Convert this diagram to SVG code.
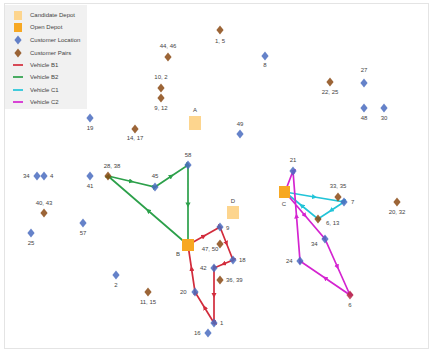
<svg xmlns="http://www.w3.org/2000/svg" width="432" height="354" viewBox="0 0 432 354">
<style>
text{font-family:"Liberation Sans",Arial,sans-serif;font-size:6px;fill:#444}
.lbl{text-anchor:middle}
.cust{fill:#4a6cc0;opacity:0.85}
.pair{fill:#8b4a14;opacity:0.85}
.cand{fill:#fdd58e}
.open{fill:#f7a823}
.r{stroke-width:1.7;fill:none}
.b1{stroke:#d22c3c}
.b2{stroke:#2ca04a}
.c1{stroke:#22c4d8}
.c2{stroke:#d424d0}
</style>
<defs>
<path id="dia" d="M0,-4.5 L3.6,0 L0,4.5 L-3.6,0 Z"/>
<marker id="ab1" viewBox="0 0 6 6" refX="3" refY="3" markerWidth="3" markerHeight="3" orient="auto"><path d="M0,0 L6,3 L0,6 Z" fill="#d22c3c"/></marker>
<marker id="ab2" viewBox="0 0 6 6" refX="3" refY="3" markerWidth="3" markerHeight="3" orient="auto"><path d="M0,0 L6,3 L0,6 Z" fill="#2ca04a"/></marker>
<marker id="ac1" viewBox="0 0 6 6" refX="3" refY="3" markerWidth="3" markerHeight="3" orient="auto"><path d="M0,0 L6,3 L0,6 Z" fill="#22c4d8"/></marker>
<marker id="ac2" viewBox="0 0 6 6" refX="3" refY="3" markerWidth="3" markerHeight="3" orient="auto"><path d="M0,0 L6,3 L0,6 Z" fill="#d424d0"/></marker>
</defs>
<rect x="0" y="0" width="432" height="354" fill="#fff"/>
<rect x="4.5" y="3.5" width="424" height="345" fill="none" stroke="#e4e4e4"/>

<g id="connectors">
<path class="r b2" marker-mid="url(#ab2)" d="M188,245 L148,210.5 L108,176 L131.5,181.5 L155,187 L171.5,176 L188,165 L188,205 L188,245"/>
<path class="r b1" marker-mid="url(#ab1)" d="M188,245 L204,236 L220,227 L226.5,243.5 L233,260 L223.5,264 L214,268 L214,295.5 L214,323 L204.5,307.5 L195,292 L191.5,268.5 L188,245"/>
<path class="r c1" marker-mid="url(#ac1)" d="M285,192 L314.5,197 L344,202 L331,210.5 L318,219 L301.5,205.5 L285,192"/>
<path class="r c2" marker-mid="url(#ac2)" d="M285,192 L305,215.5 L325,239 L337.5,267 L350,295 L325,278 L300,261 L296.5,216 L293,171 L285,192"/>
</g>

<g id="depot-A"><rect class="cand" x="189" y="116" width="12" height="14"/><text class="lbl" x="195" y="112">A</text></g>
<g id="depot-D"><rect class="cand" x="227" y="206" width="12" height="13"/><text class="lbl" x="233" y="203">D</text></g>
<g id="depot-B"><rect class="open" x="182" y="239" width="12" height="12"/><text class="lbl" x="178" y="256">B</text></g>
<g id="depot-C"><rect class="open" x="279" y="186" width="11" height="12"/><text class="lbl" x="284" y="206">C</text></g>

<g id="n1-5"><use href="#dia" class="pair" x="220" y="30"/><text class="lbl" x="220" y="43">1, 5</text></g>
<g id="n44-46"><use href="#dia" class="pair" x="168" y="57"/><text class="lbl" x="168" y="48">44, 46</text></g>
<g id="n10-2"><use href="#dia" class="pair" x="161" y="88"/><text class="lbl" x="161" y="79">10, 2</text></g>
<g id="n9-12"><use href="#dia" class="pair" x="161" y="98"/><text class="lbl" x="161" y="110">9, 12</text></g>
<g id="n14-17"><use href="#dia" class="pair" x="135" y="129"/><text class="lbl" x="135" y="140">14, 17</text></g>
<g id="n49"><use href="#dia" class="cust" x="240" y="134"/><text class="lbl" x="240" y="126">49</text></g>
<g id="n8"><use href="#dia" class="cust" x="265" y="56"/><text class="lbl" x="265" y="67">8</text></g>
<g id="n22-25"><use href="#dia" class="pair" x="330" y="82"/><text class="lbl" x="330" y="94">22, 25</text></g>
<g id="n27"><use href="#dia" class="cust" x="364" y="83"/><text class="lbl" x="364" y="72">27</text></g>
<g id="n48"><use href="#dia" class="cust" x="364" y="108"/><text class="lbl" x="364" y="120">48</text></g>
<g id="n30"><use href="#dia" class="cust" x="384" y="108"/><text class="lbl" x="384" y="120">30</text></g>
<g id="n19"><use href="#dia" class="cust" x="90" y="118"/><text class="lbl" x="90" y="130">19</text></g>
<g id="n34"><use href="#dia" class="cust" x="37" y="176"/><text x="23" y="178">34</text></g>
<g id="n4"><use href="#dia" class="cust" x="44" y="176"/><text x="50" y="178">4</text></g>
<g id="n41"><use href="#dia" class="cust" x="90" y="176"/><text class="lbl" x="90" y="188">41</text></g>
<g id="n28-38"><use href="#dia" class="pair" x="108" y="176"/><text class="lbl" x="112" y="168">28, 38</text></g>
<g id="n40-43"><use href="#dia" class="pair" x="44" y="213"/><text class="lbl" x="44" y="205">40, 43</text></g>
<g id="n57"><use href="#dia" class="cust" x="83" y="223"/><text class="lbl" x="83" y="235">57</text></g>
<g id="n25"><use href="#dia" class="cust" x="31" y="233"/><text class="lbl" x="31" y="245">25</text></g>
<g id="n2"><use href="#dia" class="cust" x="116" y="275"/><text class="lbl" x="116" y="287">2</text></g>
<g id="n11-15"><use href="#dia" class="pair" x="148" y="292"/><text class="lbl" x="148" y="304">11, 15</text></g>
<g id="n58"><use href="#dia" class="cust" x="188" y="165"/><text class="lbl" x="188" y="157">58</text></g>
<g id="n45"><use href="#dia" class="cust" x="155" y="187"/><text class="lbl" x="155" y="178">45</text></g>
<g id="n9"><use href="#dia" class="cust" x="220" y="227"/><text x="226" y="230">9</text></g>
<g id="n47-50"><use href="#dia" class="pair" x="220" y="244"/><text class="lbl" x="210" y="251">47, 50</text></g>
<g id="n18"><use href="#dia" class="cust" x="233" y="260"/><text x="239" y="262">18</text></g>
<g id="n42"><use href="#dia" class="cust" x="214" y="268"/><text x="200" y="270">42</text></g>
<g id="n36-39"><use href="#dia" class="pair" x="220" y="280"/><text x="226" y="282">36, 39</text></g>
<g id="n20"><use href="#dia" class="cust" x="195" y="292"/><text x="180" y="294">20</text></g>
<g id="n1"><use href="#dia" class="cust" x="214" y="323"/><text x="220" y="325">1</text></g>
<g id="n16"><use href="#dia" class="cust" x="208" y="333"/><text x="194" y="335">16</text></g>
<g id="n21"><use href="#dia" class="cust" x="293" y="171"/><text class="lbl" x="293" y="162">21</text></g>
<g id="n33-35"><use href="#dia" class="pair" x="338" y="197"/><text class="lbl" x="338" y="188">33, 35</text></g>
<g id="n7"><use href="#dia" class="cust" x="344" y="202"/><text x="351" y="204">7</text></g>
<g id="n6-13"><use href="#dia" class="pair" x="318" y="219"/><text x="326" y="225">6, 13</text></g>
<g id="n34b"><use href="#dia" class="cust" x="325" y="239"/><text x="311" y="246">34</text></g>
<g id="n24"><use href="#dia" class="cust" x="300" y="261"/><text x="286" y="263">24</text></g>
<g id="n6"><use href="#dia" class="pair" x="350" y="295" style="fill:#b83048"/><text class="lbl" x="350" y="307">6</text></g>
<g id="n20-32"><use href="#dia" class="pair" x="397" y="202"/><text class="lbl" x="397" y="214">20, 32</text></g>

<g id="legend">
<rect x="5" y="5" width="82" height="104" fill="#f0f0f0" opacity="0.9"/>
<rect x="14" y="11" width="8" height="9" class="cand"/><text x="30" y="17">Candidate Depot</text>
<rect x="14" y="23" width="8" height="9" class="open"/><text x="30" y="29">Open Depot</text>
<use href="#dia" class="cust" x="18" y="40"/><text x="30" y="42">Customer Location</text>
<use href="#dia" class="pair" x="18" y="53"/><text x="30" y="55">Customer Pairs</text>
<line x1="13" y1="65" x2="23" y2="65" class="r b1"/><text x="30" y="67">Vehicle B1</text>
<line x1="13" y1="77" x2="23" y2="77" class="r b2"/><text x="30" y="79">Vehicle B2</text>
<line x1="13" y1="90" x2="23" y2="90" class="r c1"/><text x="30" y="92">Vehicle C1</text>
<line x1="13" y1="102" x2="23" y2="102" class="r c2"/><text x="30" y="104">Vehicle C2</text>
</g>
</svg>
